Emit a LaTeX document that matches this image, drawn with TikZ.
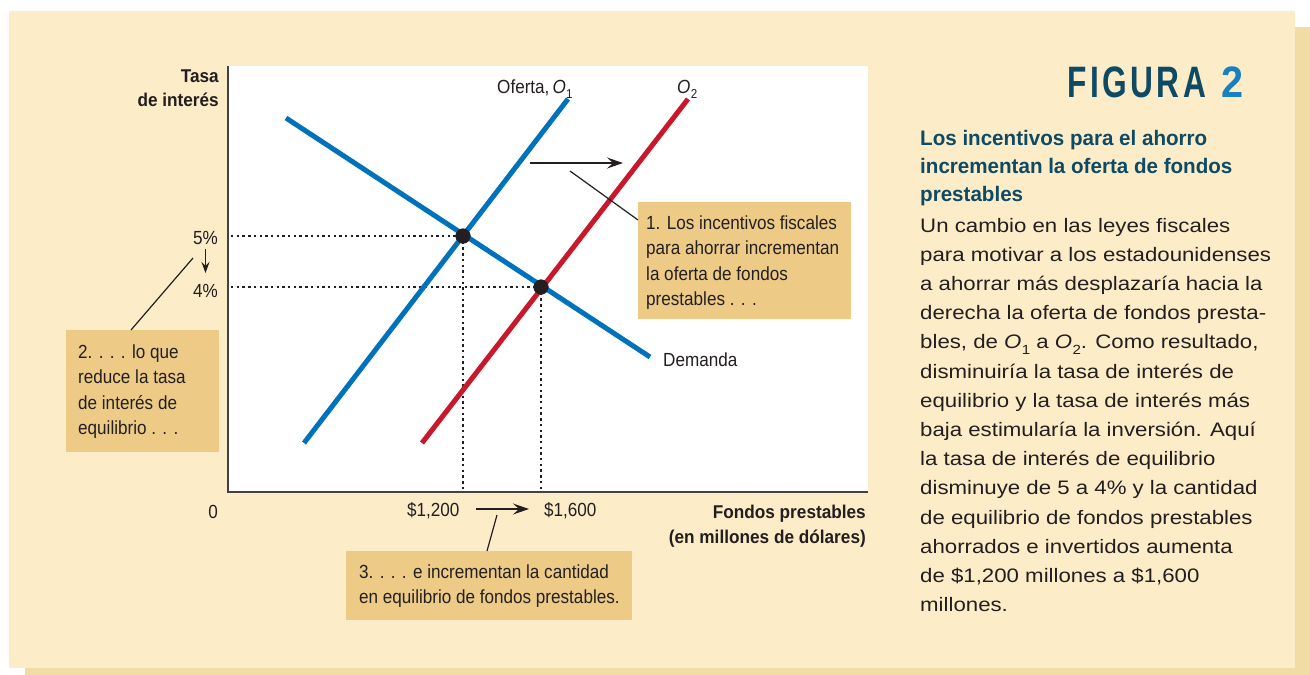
\documentclass[tikz,border=0pt]{standalone}
\usepackage{fontspec}
\setmainfont{Liberation Sans}
\newfontfamily\chartfont[FakeStretch=0.9]{Liberation Sans}
\newfontfamily\bodyfont[FakeStretch=1.14]{Liberation Sans}
\newfontfamily\headfont[FakeStretch=0.98]{Liberation Sans}
\newfontfamily\axfont[FakeStretch=0.93]{Liberation Sans}
\newfontfamily\figfont[FakeStretch=0.72,LetterSpace=8]{Liberation Sans}
\newfontfamily\figtwofont[FakeStretch=0.9]{Liberation Sans}
\usetikzlibrary{arrows.meta}
\definecolor{bgc}{HTML}{FDECC8}
\definecolor{shadowc}{HTML}{F2DCA6}
\definecolor{boxc}{HTML}{EDCB86}
\definecolor{bluec}{HTML}{0072BC}
\definecolor{redc}{HTML}{C9182B}
\definecolor{tealc}{HTML}{0D4A64}
\definecolor{twoc}{HTML}{1A7FC1}
\definecolor{txt}{HTML}{231F20}
\newcommand\Osub[1]{\textit{O}\kern0.3pt\raisebox{-0.28em}{\scalebox{0.68}{#1}}}
\tikzset{
  lbl/.style={anchor=base west, inner sep=0pt, text=txt, font=\chartfont\fontsize{19}{22}\selectfont},
  lble/.style={lbl, anchor=base east},
  axlbl/.style={anchor=base east, inner sep=0pt, text=txt, font=\axfont\fontsize{18.5}{21}\selectfont\bfseries},
  body/.style={anchor=base west, inner sep=0pt, text=txt, font=\bodyfont\fontsize{19.5}{24}\selectfont},
  head/.style={anchor=base west, inner sep=0pt, text=tealc, font=\headfont\bfseries\fontsize{21}{25}\selectfont},
  boxst/.style={fill=boxc, draw=none, inner sep=0pt, anchor=north west},
  curveb/.style={draw=bluec, line width=5pt},
  curver/.style={draw=redc, line width=5pt},
  dotline/.style={draw=txt, line width=2.6pt, dash pattern=on 2.4pt off 3.3pt},
  dot/.style={circle, fill=txt, minimum size=15pt, inner sep=0pt},
  conn/.style={draw=txt, line width=1.2pt},
  arr/.style={draw=txt, line width=1.5pt, -{Stealth[length=16pt,width=11pt,inset=6pt]}},
  sarr/.style={draw=txt, line width=1.5pt, -{Stealth[length=11pt,width=8pt,inset=4pt]}},
  axisl/.style={draw=txt!85, line width=1.4pt}
}
\begin{document}
\begin{tikzpicture}[x=1pt,y=-1pt]
\useasboundingbox (0,0) rectangle (1310,675);
% background panels
\fill[shadowc] (25,27) rectangle (1310,675);
\fill[bgc] (9,11) rectangle (1295,668);
\fill[white] (228,66) rectangle (868,492);

% axes
\coordinate (ytop) at (228,66);
\coordinate (origin) at (228,492);
\coordinate (xend) at (868,492);

% equilibrium points
\node[dot] (e1) at (463,236) {};
\node[dot] (e2) at (541,287) {};

% dotted guide lines
\draw[dotline] (e1.center -| origin) ++(3,0) -- (e1.center);
\draw[dotline] (e2.center -| origin) ++(3,0) -- (e2.center);
\draw[dotline] (e1.center) -- (e1.center |- origin);
\draw[dotline] (e2.center) -- (e2.center |- origin);

% curves
\coordinate (d1) at (286,118);
\coordinate (d2) at (650,357);
\coordinate (o1a) at (304,443);
\coordinate (o1b) at (568,99);
\coordinate (o2a) at (422,443);
\coordinate (o2b) at (688,99);
\draw[curveb] (d1) -- (d2);
\draw[curveb] (o1a) -- (o1b);
\draw[curver] (o2a) -- (o2b);

% redraw dots on top
\node[dot] at (e1) {};
\node[dot] at (e2) {};

\draw[axisl] (ytop) -- (origin) -- (xend);

% shift arrow
\coordinate (sa) at (530,163);
\coordinate (sb) at (623,163);
\draw[arr] (sa) -- (sb);

% annotation boxes
\node[boxst, minimum width=213pt, minimum height=117pt] (box1) at (638,202) {};
\node[boxst, minimum width=153pt, minimum height=122pt] (box2) at (66,330) {};
\node[boxst, minimum width=286pt, minimum height=69pt] (box3) at (346,551) {};

% connectors to boxes
\coordinate (c1s) at (570,171);
\coordinate (c1e) at (638,220);
\draw[conn] (c1s) -- (c1e);
\coordinate (c2s) at (193,258);
\coordinate (c2e) at (131,330);
\draw[conn] (c2s) -- (c2e);
\coordinate (c3s) at (497,515);
\coordinate (c3e) at (487,551);
\draw[conn] (c3s) -- (c3e);

% box texts
\node[lbl] (b1l1) at (646,229.5) {1. Los incentivos fiscales};
\node[lbl] (b1l2) at (646,254.8) {para ahorrar incrementan};
\node[lbl] (b1l3) at (646,280.1) {la oferta de fondos};
\node[lbl] (b1l4) at (646,305.4) {prestables . . .};
\node[lbl] (b2l1) at (78,358) {2. . . . lo que};
\node[lbl] (b2l2) at (78,383.5) {reduce la tasa};
\node[lbl] (b2l3) at (78,409) {de interés de};
\node[lbl] (b2l4) at (78,434.5) {equilibrio . . .};
\node[lbl] (b3l1) at (359,578) {3. . . . e incrementan la cantidad};
\node[lbl] (b3l2) at (359,603.5) {en equilibrio de fondos prestables.};

% axis labels
\node[axlbl] (ylab1) at (219,82) {Tasa};
\node[axlbl] (ylab2) at (219,106) {de interés};
\node[axlbl] (xlab1) at (866,518) {Fondos prestables};
\node[axlbl] (xlab2) at (866,543) {(en millones de dólares)};
\node[lble] (zero) at (218,518) {0};
\node[lble] (p5) at (218,244) {5\%};
\node[lble] (p4) at (218,297) {4\%};
\coordinate (ra) at (205.5,249);
\coordinate (rb) at (205.5,273);
\draw[sarr] (ra) -- (rb);
\node[lbl] (q1) at (407,516) {\$1,200};
\node[lbl] (q2) at (544,516) {\$1,600};
\coordinate (qa) at (476,509);
\coordinate (qb) at (529,509);
\draw[arr] (qa) -- (qb);

% curve labels
\node[lbl] (lo1) at (497,93) {Oferta,\,\Osub{1}};
\node[lbl] (lo2) at (677,93) {\Osub{2}};
\node[lbl] (ldem) at (663,366) {Demanda};

% right column
\node[anchor=base west, inner sep=0pt, text=tealc, font=\figfont\bfseries\fontsize{44}{48}\selectfont] (fig) at (1067,97) {FIGURA};
\node[anchor=base west, inner sep=0pt, text=twoc, font=\figtwofont\bfseries\fontsize{44}{48}\selectfont] (fignum) at (1221,97) {2};
\node[head] (h1) at (920,145) {Los incentivos para el ahorro};
\node[head] (h2) at (920,173) {incrementan la oferta de fondos};
\node[head] (h3) at (920,201) {prestables};
\node[body] (t1) at (920,232) {Un cambio en las leyes fiscales};
\node[body] (t2) at (920,261.2) {para motivar a los estadounidenses};
\node[body] (t3) at (920,290.4) {a ahorrar más desplazaría hacia la};
\node[body] (t4) at (920,319.6) {derecha la oferta de fondos presta-};
\node[body] (t5) at (920,348.8) {bles, de \Osub{1} a \Osub{2}. Como resultado,};
\node[body] (t6) at (920,378) {disminuiría la tasa de interés de};
\node[body] (t7) at (920,407.2) {equilibrio y la tasa de interés más};
\node[body] (t8) at (920,436.4) {baja estimularía la inversión. Aquí};
\node[body] (t9) at (920,465.6) {la tasa de interés de equilibrio};
\node[body] (t10) at (920,494.8) {disminuye de 5 a 4\% y la cantidad};
\node[body] (t11) at (920,524) {de equilibrio de fondos prestables};
\node[body] (t12) at (920,553.2) {ahorrados e invertidos aumenta};
\node[body] (t13) at (920,582.4) {de \$1,200 millones a \$1,600};
\node[body] (t14) at (920,611.6) {millones.};
\end{tikzpicture}
\end{document}
